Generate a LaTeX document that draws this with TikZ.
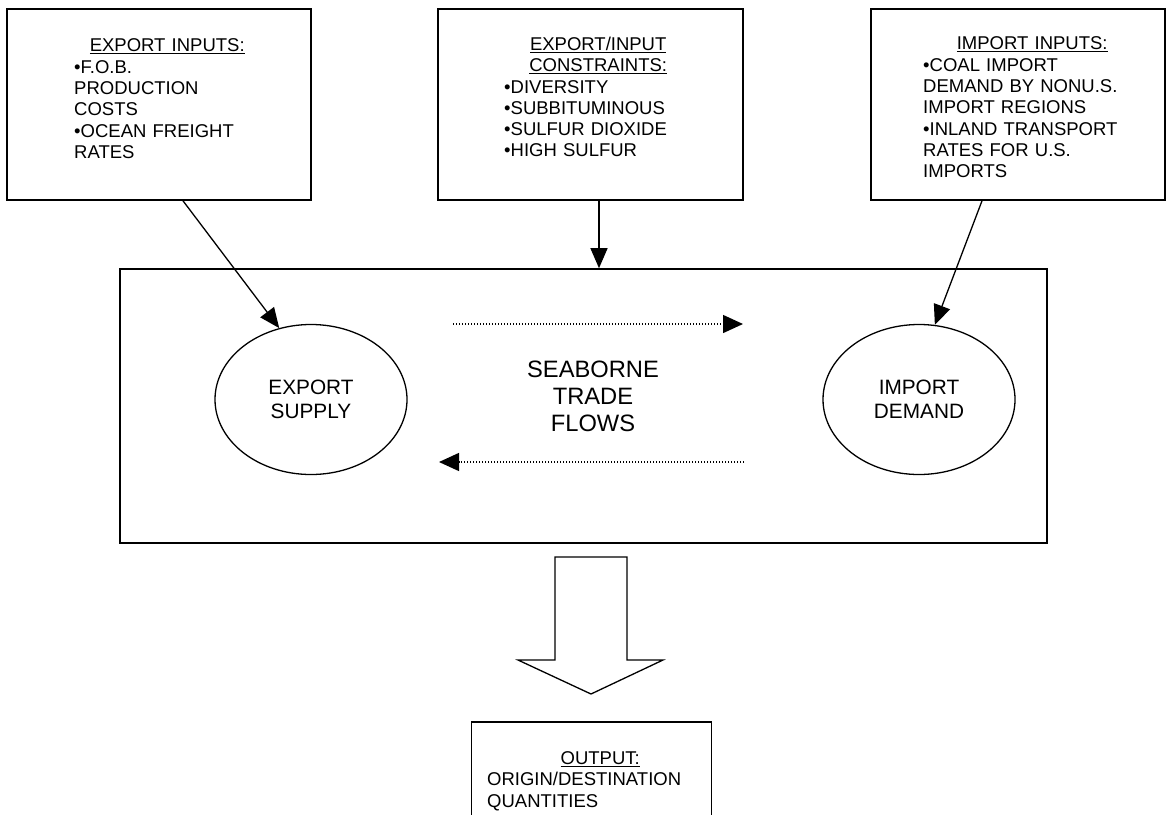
\documentclass[tikz,border=0pt]{standalone}
\usepackage{fontspec}
\setmainfont{Liberation Sans}
\usetikzlibrary{arrows.meta,shapes.geometric}
\tikzset{
  boxframe/.style={draw, line width=1.6pt, inner sep=0pt},
  boxtext/.style={anchor=north west, inner sep=0pt, align=left,
    font=\fontsize{18.5}{21.3}\selectfont},
  ellnode/.style={ellipse, draw, line width=1.3pt, inner sep=0pt,
    minimum width=192pt, minimum height=150pt, align=center,
    font=\fontsize{20.8}{24}\selectfont},
  conn/.style={line width=1.3pt, -{Triangle[length=20pt,width=17pt]}},
  dotflow/.style={line width=1.4pt, dash pattern=on 1.4pt off 1.6pt,
    -{Triangle[length=20pt,width=18pt]}},
}
\newcommand{\hd}[1]{\makebox[\linewidth][c]{\underline{#1}}}
\begin{document}
\begin{tikzpicture}[x=1pt,y=-1pt]
\useasboundingbox (0,0) rectangle (1169,814);
\clip (0,0) rectangle (1169,814);
\fill[white] (0,0) rectangle (1169,814);

% top boxes
\node[boxframe, minimum width=304pt, minimum height=191pt] (b1) at (159,104.5) {};
\node[boxframe, minimum width=305pt, minimum height=191pt] (b2) at (590.5,104.5) {};
\node[boxframe, minimum width=294pt, minimum height=191pt] (b3) at (1018,104.5) {};

\node[boxtext, text width=186pt] (t1) at (74,38.8)
  {\hd{EXPORT INPUTS:}\\ •F.O.B.\\ PRODUCTION\\ COSTS\\ •OCEAN FREIGHT\\ RATES};
\node[boxtext, text width=188pt] (t2) at (504,36.8)
  {\hd{EXPORT/INPUT}\\ \hd{CONSTRAINTS:}\\ •DIVERSITY\\ •SUBBITUMINOUS\\ •SULFUR DIOXIDE\\ •HIGH SULFUR};
\node[boxtext, text width=218pt] (t3) at (923,36.8)
  {\hd{IMPORT INPUTS:}\\ •COAL IMPORT\\ DEMAND BY NONU.S.\\ IMPORT REGIONS\\ •INLAND TRANSPORT\\ RATES FOR U.S.\\ IMPORTS};

% main box
\node[boxframe, minimum width=927pt, minimum height=274pt] (main) at (583.5,406) {};

\node[ellnode] (es) at (311,399.5) {EXPORT\\SUPPLY};
\node[ellnode] (id) at (919,399.5) {IMPORT\\DEMAND};

\node[align=center, inner sep=0pt, font=\fontsize{23.7}{27}\selectfont] (sea) at (593,396)
  {SEABORNE\\TRADE\\FLOWS};

\coordinate (f1s) at (453,324);
\coordinate (f1e) at (743,324);
\coordinate (f2s) at (744,462);
\coordinate (f2e) at (439,462);
\draw[dotflow] (f1s) -- (f1e);
\draw[dotflow] (f2s) -- (f2e);

% connectors
\draw[conn] ([xshift=24pt]b1.south) -- (es.114);
\draw[conn] ([xshift=8.5pt]b2.south) -- ([xshift=8.5pt]b2.south |- main.north);
\draw[conn] ([xshift=-36pt]b3.south) -- (id.78);

% block arrow
\draw[line width=1.3pt, line join=miter] (555,557) -- (627,557) -- (627,660) -- (663,660)
  -- (591,694) -- (518,660) -- (555,660) -- cycle;

% output box
\node[boxframe, minimum width=240pt, minimum height=110pt] (ob) at (591.5,777) {};
\node[boxtext, text width=226pt] (ot) at (487,751.5)
  {\hd{OUTPUT:}\\ ORIGIN/DESTINATION\\ QUANTITIES};
\end{tikzpicture}
\end{document}
